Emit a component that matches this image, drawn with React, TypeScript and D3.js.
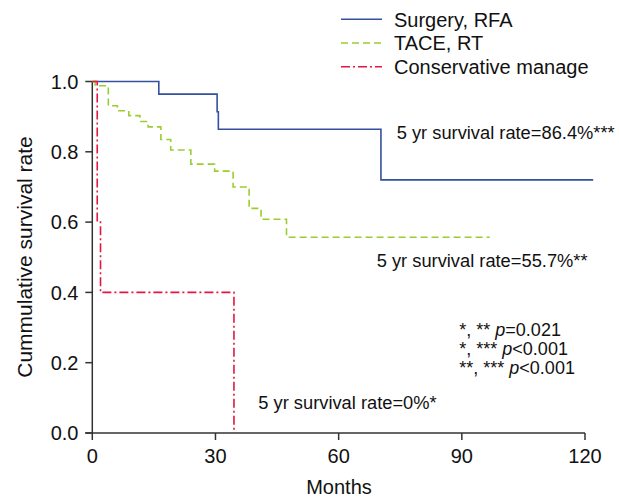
import React from "react";
import * as d3 from "d3";

const xTicks = [0, 30, 60, 90, 120];
const yTicks = [0, 0.2, 0.4, 0.6, 0.8, 1.0];

const surgeryTimes = [0, 16.2, 30.4, 30.7, 70.3, 122];
const surgerySurv = [1, 0.964, 0.914, 0.864, 0.72, 0.72];

const taceTimes = [0, 0.7, 3.9, 6.1, 8.9, 11.6, 13.6, 16.7, 19.1, 24.0, 29.8, 34.3, 38.2, 41.1, 47.3, 96.8];
const taceSurv = [1, 0.988, 0.931, 0.917, 0.903, 0.886, 0.871, 0.835, 0.805, 0.765, 0.745, 0.70, 0.639, 0.608, 0.557, 0.557];

const consTimes = [0, 1.2, 2.0, 34.5];
const consSurv = [1, 0.6, 0.4, 0];

const legendLabels = ["Surgery, RFA", "TACE, RT", "Conservative manage"];
const rateLabels = ["5 yr survival rate=86.4%***", "5 yr survival rate=55.7%**", "5 yr survival rate=0%*"];

const FONT = "'Liberation Sans', Arial, sans-serif";
const BLUE = "#34509f";
const GREEN = "#9acd32";
const RED = "#e3173f";
const AXIS = "#333";

export default function App() {
  const x = d3.scaleLinear().domain([0, 120]).range([92.3, 585]);
  const y = d3.scaleLinear().domain([0, 1]).range([433, 81.5]);

  const line = d3
    .line<[number, number]>()
    .x((d) => x(d[0]))
    .y((d) => y(d[1]))
    .curve(d3.curveStepAfter);

  const toPts = (t: number[], s: number[]) => t.map((v, i) => [v, s[i]] as [number, number]);

  const series = [
    { pts: toPts(surgeryTimes, surgerySurv), color: BLUE, dash: undefined as string | undefined },
    { pts: toPts(taceTimes, taceSurv), color: GREEN, dash: "7,4" },
    { pts: toPts(consTimes, consSurv), color: RED, dash: "9,3,2,3" },
  ];

  const x0 = x(0);
  const y0 = y(0);

  return (
    <svg width={619} height={498} style={{ position: "absolute", left: 0, top: 0, background: "#fff" }} fontFamily={FONT}>
      <rect x={0} y={0} width={619} height={498} fill="#fff" />
      {/* axes */}
      <line x1={x0} x2={x0} y1={y(1)} y2={y0} stroke={AXIS} strokeWidth={1.5} />
      <line x1={x0 - 7} x2={x(120)} y1={y0} y2={y0} stroke={AXIS} strokeWidth={1.5} />
      {yTicks.map((t) => (
        <g key={"y" + t}>
          <line x1={x0 - 7} x2={x0} y1={y(t)} y2={y(t)} stroke={AXIS} strokeWidth={1.5} />
          <text x={78.5} y={y(t)} dy="0.36em" textAnchor="end" fontSize={20} fill="#111">
            {t.toFixed(1)}
          </text>
        </g>
      ))}
      {xTicks.map((t) => (
        <g key={"x" + t}>
          <line x1={x(t)} x2={x(t)} y1={y0} y2={y0 + 7} stroke={AXIS} strokeWidth={1.5} />
          <text x={x(t)} y={463} textAnchor="middle" fontSize={20} fill="#111">
            {t}
          </text>
        </g>
      ))}
      <text x={339} y={494} textAnchor="middle" fontSize={20} fill="#111">
        Months
      </text>
      <text transform="translate(32,257) rotate(-90)" textAnchor="middle" fontSize={21} fill="#111">
        Cummulative survival rate
      </text>

      {/* curves */}
      {series.map((s, i) => (
        <path key={i} d={line(s.pts) || ""} fill="none" stroke={s.color} strokeWidth={1.6} strokeDasharray={s.dash} />
      ))}

      {/* legend */}
      {legendLabels.map((lab, i) => (
        <g key={lab}>
          <line x1={341} x2={382} y1={19.3 + i * 23.7} y2={19.3 + i * 23.7} stroke={series[i].color} strokeWidth={1.6} strokeDasharray={series[i].dash} />
          <text x={394} y={26.7 + i * 23.7} fontSize={20} fill="#111">
            {lab}
          </text>
        </g>
      ))}

      {/* annotations */}
      <text x={396.7} y={139.3} fontSize={18.3} fill="#111">{rateLabels[0]}</text>
      <text x={376.7} y={266.7} fontSize={18.3} fill="#111">{rateLabels[1]}</text>
      <text x={258.3} y={409} fontSize={18.3} fill="#111">{rateLabels[2]}</text>

      <text x={459.3} y={335.7} fontSize={18} fill="#111">
        *, ** <tspan fontStyle="italic">p</tspan>=0.021
      </text>
      <text x={459.3} y={355} fontSize={18} fill="#111">
        *, *** <tspan fontStyle="italic">p</tspan>&lt;0.001
      </text>
      <text x={459.3} y={374.3} fontSize={18} fill="#111">
        **, *** <tspan fontStyle="italic">p</tspan>&lt;0.001
      </text>
    </svg>
  );
}
